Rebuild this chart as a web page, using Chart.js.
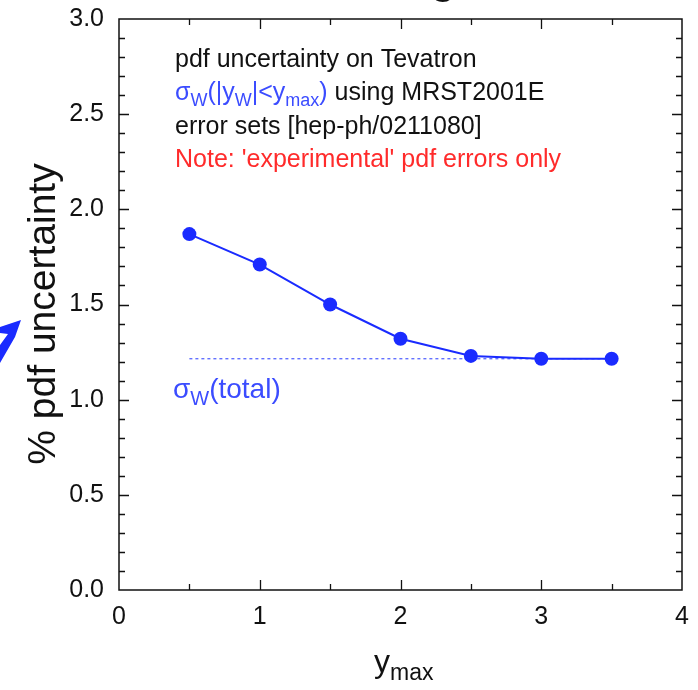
<!DOCTYPE html>
<html>
<head>
<meta charset="utf-8">
<script src="https://cdn.jsdelivr.net/npm/chart.js@4/dist/chart.umd.min.js"></script>
<style>
  body { margin: 0; background: #fff; }
  canvas { display: block; }
</style>
</head>
<body>
<canvas id="pdfChart" width="698" height="690"></canvas>
<script>
// y_max values and % pdf uncertainty
const yMax = [0.5, 1, 1.5, 2, 2.5, 3, 3.5];
const pdfUncertainty = [1.87, 1.71, 1.50, 1.32, 1.23, 1.215, 1.215];
// sigma_W(total) reference level (dashed)
const totalRange = [0.5, 3.5];
const totalValue = 1.215;

const xTickLabels = [0, 1, 2, 3, 4];
const yTickLabels = [0.0, 0.5, 1.0, 1.5, 2.0, 2.5, 3.0];

const FONT = "'Liberation Sans', Arial, sans-serif";
const BLUE = '#1a2bff';
const TEXT_BLUE = '#3b4cff';
const RED = '#ff2b2b';

// draw a run of text pieces, some of them subscripted
function drawRich(ctx, x, y, pieces, size) {
  let cx = x;
  pieces.forEach(p => {
    const fs = p.sub ? Math.round(size * 0.72) : size;
    ctx.font = fs + 'px ' + FONT;
    ctx.fillStyle = p.color;
    ctx.fillText(p.t, cx, p.sub ? y + size * 0.25 : y);
    cx += ctx.measureText(p.t).width;
  });
}

const framePlugin = {
  id: 'frame',
  afterDraw(chart) {
    const ctx = chart.ctx;
    const a = chart.chartArea;
    const xs = chart.scales.x, ys = chart.scales.y;
    ctx.save();
    ctx.strokeStyle = '#111';
    ctx.lineWidth = 1.5;
    ctx.strokeRect(a.left, a.top, a.right - a.left, a.bottom - a.top);

    // inward ticks on all four sides
    ctx.lineWidth = 1.3;
    ctx.beginPath();
    for (let i = 1; i < 30; i++) {
      const v = i / 10;
      const py = Math.round(ys.getPixelForValue(v)) + 0.5;
      const len = (i % 5 === 0) ? 10 : 6;
      ctx.moveTo(a.left, py); ctx.lineTo(a.left + len, py);
      ctx.moveTo(a.right, py); ctx.lineTo(a.right - len, py);
    }
    for (let i = 1; i < 8; i++) {
      const v = i / 2;
      const px = Math.round(xs.getPixelForValue(v)) + 0.5;
      const len = (i % 2 === 0) ? 10 : 6;
      ctx.moveTo(px, a.bottom); ctx.lineTo(px, a.bottom - len);
      ctx.moveTo(px, a.top); ctx.lineTo(px, a.top + len);
    }
    ctx.stroke();

    // annotation block
    ctx.textBaseline = 'alphabetic';
    ctx.textAlign = 'left';
    const tx = 175;
    drawRich(ctx, tx, 67, [{ t: 'pdf uncertainty on Tevatron', color: '#111' }], 25);
    drawRich(ctx, tx, 100, [
      { t: 'σ', color: TEXT_BLUE },
      { t: 'W', color: TEXT_BLUE, sub: true },
      { t: '(|y', color: TEXT_BLUE },
      { t: 'W', color: TEXT_BLUE, sub: true },
      { t: '|<y', color: TEXT_BLUE },
      { t: 'max', color: TEXT_BLUE, sub: true },
      { t: ')', color: TEXT_BLUE },
      { t: ' using MRST2001E', color: '#111' }
    ], 25);
    drawRich(ctx, tx, 134, [{ t: 'error sets [hep-ph/0211080]', color: '#111' }], 25);
    drawRich(ctx, tx, 167, [{ t: "Note: 'experimental' pdf errors only", color: RED }], 25);

    drawRich(ctx, 173, 398, [
      { t: 'σ', color: TEXT_BLUE },
      { t: 'W', color: TEXT_BLUE, sub: true },
      { t: '(total)', color: TEXT_BLUE }
    ], 28);

    // x axis title
    drawRich(ctx, 374, 672, [
      { t: 'y', color: '#111' },
      { t: 'max', color: '#111', sub: true }
    ], 32);

    // y axis title
    ctx.save();
    ctx.translate(44, 314);
    ctx.rotate(-Math.PI / 2);
    ctx.font = '39px ' + FONT;
    ctx.fillStyle = '#111';
    ctx.textAlign = 'center';
    ctx.textBaseline = 'middle';
    ctx.fillText('% pdf uncertainty', 0, 0);
    ctx.restore();

    // cut-off slide fragments at the edges
    ctx.fillStyle = '#1a2bff';
    ctx.beginPath();
    ctx.moveTo(21, 320);
    ctx.lineTo(0, 327);
    ctx.lineTo(0, 333);
    ctx.lineTo(8, 334);
    ctx.lineTo(0, 345);
    ctx.lineTo(0, 363);
    ctx.lineTo(15, 337);
    ctx.closePath();
    ctx.fill();
    ctx.font = 'bold 40px ' + FONT;
    ctx.fillStyle = '#111';
    ctx.fillText('g', 431, -6);
    ctx.restore();
  }
};

new Chart(document.getElementById('pdfChart'), {
  type: 'scatter',
  data: {
    datasets: [
      {
        data: yMax.map((x, i) => ({ x: x, y: pdfUncertainty[i] })),
        showLine: true,
        borderColor: BLUE,
        backgroundColor: BLUE,
        borderWidth: 2,
        pointRadius: 7,
        pointBorderWidth: 0,
        order: 1
      },
      {
        data: totalRange.map(x => ({ x: x, y: totalValue })),
        showLine: true,
        borderColor: '#4a5aff',
        borderWidth: 1.2,
        borderDash: [3, 3],
        pointRadius: 0,
        order: 2
      }
    ]
  },
  options: {
    responsive: false,
    animation: false,
    layout: { padding: { left: 0, top: 19, right: 16, bottom: 0 } },
    plugins: { legend: { display: false }, tooltip: { enabled: false } },
    scales: {
      x: {
        type: 'linear',
        min: 0, max: 4,
        grid: { display: false, drawTicks: false },
        border: { display: false },
        afterFit: s => { s.height = 100; s.paddingLeft = 0; s.paddingRight = 0; },
        afterBuildTicks: s => { s.ticks = xTickLabels.map(v => ({ value: v })); },
        ticks: {
          padding: 12,
          color: '#111',
          font: { family: FONT, size: 25 },
          callback: v => String(v)
        }
      },
      y: {
        min: 0, max: 3,
        grid: { display: false, drawTicks: false },
        border: { display: false },
        afterFit: s => { s.width = 119; s.paddingTop = 0; s.paddingBottom = 0; },
        afterBuildTicks: s => { s.ticks = yTickLabels.map(v => ({ value: v })); },
        ticks: {
          padding: 15,
          color: '#111',
          font: { family: FONT, size: 25 },
          callback: v => v.toFixed(1)
        }
      }
    }
  },
  plugins: [framePlugin]
});
</script>
</body>
</html>
